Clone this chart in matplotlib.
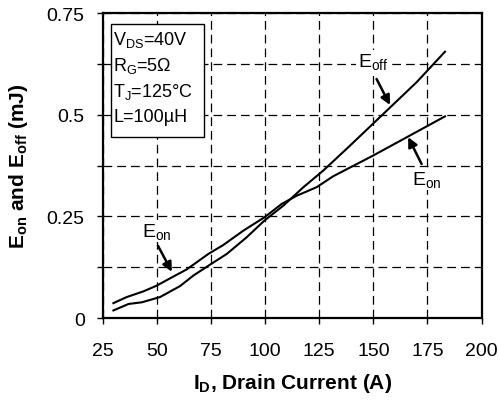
import matplotlib
matplotlib.use('Agg')
import matplotlib.pyplot as plt
from matplotlib.patches import Rectangle
from matplotlib.ticker import MultipleLocator, FuncFormatter

plt.rcParams['font.family'] = ['Liberation Sans', 'DejaVu Sans']
plt.rcParams['mathtext.fontset'] = 'custom'
plt.rcParams['mathtext.rm'] = 'Liberation Sans'
plt.rcParams['mathtext.it'] = 'Liberation Sans'
plt.rcParams['mathtext.bf'] = 'Liberation Sans:bold'

# drain current (A) and switching energies (mJ)
id_off = [29.9, 36.9, 43.0, 51.5, 60.7, 66.9, 73.8, 82.3, 91.5, 99.7,
          108.5, 117.7, 126.9, 139.2, 154.6, 170.0, 183.1]
e_off = [0.019, 0.035, 0.039, 0.052, 0.079, 0.105, 0.129, 0.158, 0.199, 0.240,
         0.277, 0.322, 0.363, 0.424, 0.502, 0.580, 0.655]

id_on = [29.9, 36.1, 43.8, 49.9, 56.1, 63.8, 73.8, 80.7, 89.9, 99.7,
         107.7, 114.6, 123.8, 131.5, 150.0, 166.9, 183.1]
e_on = [0.037, 0.052, 0.066, 0.080, 0.098, 0.120, 0.158, 0.180, 0.215, 0.248,
        0.281, 0.301, 0.322, 0.349, 0.400, 0.449, 0.496]

conditions = [r'V$_{\mathrm{DS}}$=40V', r'R$_{\mathrm{G}}$=5$\Omega$',
              r'T$_{\mathrm{J}}$=125°C', 'L=100µH']

fig = plt.figure(figsize=(4.99, 4.02), dpi=100)
ax = fig.add_axes([0.206, 0.206, 0.759, 0.759])
ax.set_axisbelow(True)

ax.plot(id_off, e_off, color='black', lw=1.5, zorder=3)
ax.plot(id_on, e_on, color='black', lw=1.5, zorder=3)

ax.set_xlim(25, 200)
ax.set_ylim(0, 0.75)
ax.xaxis.set_major_locator(MultipleLocator(25))
ax.yaxis.set_major_locator(MultipleLocator(0.25))
ax.yaxis.set_minor_locator(MultipleLocator(0.125))
ax.yaxis.set_major_formatter(FuncFormatter(lambda v, p: '%g' % v))

ax.grid(which='major', axis='x', color='black', lw=0.9, ls=(0, (7, 4)))
ax.grid(which='both', axis='y', color='black', lw=0.9, ls=(0, (7, 4)))

ax.tick_params(which='both', direction='out', length=4, width=1,
               labelsize=14, color='black')
ax.tick_params(axis='x', pad=13)
ax.tick_params(axis='y', pad=9)
for s in ax.spines.values():
    s.set_linewidth(1.6)

ax.set_xlabel(r'I$_{\mathbf{D}}$, Drain Current (A)', fontsize=15,
              fontweight='bold', labelpad=9)
ax.set_ylabel(r'E$_{\mathbf{on}}$ and E$_{\mathbf{off}}$ (mJ)', fontsize=15,
              fontweight='bold', labelpad=12)

# conditions box
ax.add_patch(Rectangle((0.021, 0.593), 0.245, 0.371, transform=ax.transAxes,
                       fc='white', ec='black', lw=1, zorder=5))
for i, t in enumerate(conditions):
    ax.text(0.028, 0.915 - i * 0.085, t, transform=ax.transAxes, fontsize=13,
            ha='left', va='center', zorder=6)

arrow = dict(arrowstyle='-|>', color='black', lw=1.8, mutation_scale=14,
             shrinkA=0, shrinkB=0)
wbox = dict(fc='white', ec='none', pad=1)
ax.annotate('', xy=(157.7, 0.524), xytext=(151.5, 0.588), arrowprops=arrow, zorder=4)
ax.text(149.8, 0.632, r'E$_{\mathrm{off}}$', fontsize=14, ha='center',
        va='center', bbox=wbox, zorder=4)
ax.annotate('', xy=(166.1, 0.445), xytext=(172.3, 0.379), arrowprops=arrow, zorder=4)
ax.text(174.7, 0.342, r'E$_{\mathrm{on}}$', fontsize=14, ha='center',
        va='center', bbox=wbox, zorder=4)
ax.annotate('', xy=(56.9, 0.114), xytext=(50.5, 0.178), arrowprops=arrow, zorder=4)
ax.text(50.1, 0.214, r'E$_{\mathrm{on}}$', fontsize=14, ha='center',
        va='center', bbox=wbox, zorder=4)

fig.savefig('out.png', dpi=100)
